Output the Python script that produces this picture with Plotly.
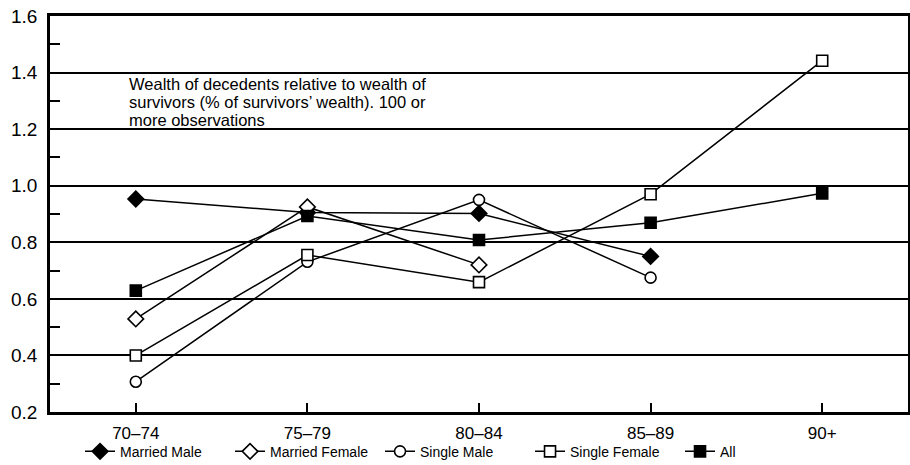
import plotly.graph_objects as go

categories = ["70–74", "75–79", "80–84", "85–89", "90+"]

married_male = [0.953, 0.905, 0.902, 0.750, None]
married_female = [0.529, 0.925, 0.720, None, None]
single_male = [0.307, 0.731, 0.950, 0.675, None]
single_female = [0.400, 0.755, 0.659, 0.970, 1.442]
all_groups = [0.629, 0.893, 0.808, 0.869, 0.973]

series_names = ["Married Male", "Married Female", "Single Male", "Single Female", "All"]

annotation_lines = [
    "Wealth of decedents relative to wealth of",
    "survivors (% of survivors’ wealth). 100 or",
    "more observations",
]

y_ticks = [0.2, 0.4, 0.6, 0.8, 1.0, 1.2, 1.4, 1.6]
y_minor = [0.3, 0.5, 0.7, 0.9, 1.1, 1.3, 1.5]

FONT = "Liberation Sans, Arial, sans-serif"

styles = [
    dict(symbol="diamond", size=12, fill="black"),
    dict(symbol="diamond", size=12, fill="white"),
    dict(symbol="circle", size=11, fill="white"),
    dict(symbol="square", size=11, fill="white"),
    dict(symbol="square", size=11, fill="black"),
]

all_series = [married_male, married_female, single_male, single_female, all_groups]

fig = go.Figure()
for name, vals, st in zip(series_names, all_series, styles):
    xs = [c for c, v in zip(categories, vals) if v is not None]
    ys = [v for v in vals if v is not None]
    fig.add_trace(go.Scatter(
        x=xs, y=ys, name=name, mode="lines+markers",
        line=dict(color="black", width=1.5),
        marker=dict(symbol=st["symbol"], size=st["size"], color=st["fill"],
                    line=dict(color="black", width=1.6)),
    ))

for i, line in enumerate(annotation_lines):
    fig.add_annotation(
        x=0.0897, xref="paper", xanchor="left",
        y=1.6, yref="y", yanchor="top",
        yshift=-57 - 18 * i,
        text=line, showarrow=False,
        font=dict(family=FONT, size=16.5, color="black"),
    )

fig.update_layout(
    width=910, height=465,
    margin=dict(l=50, r=2, t=16, b=53, autoexpand=False),
    paper_bgcolor="white", plot_bgcolor="white",
    font=dict(family=FONT, color="black"),
    showlegend=True,
    legend=dict(
        orientation="h", x=0.035, xanchor="left", y=-0.06, yanchor="top",
        font=dict(family=FONT, size=14, color="black"),
        entrywidth=105, entrywidthmode="pixels",
        itemwidth=30, tracegroupgap=0,
        bgcolor="rgba(0,0,0,0)",
    ),
)

fig.update_xaxes(
    type="category", categoryorder="array", categoryarray=categories,
    range=[-0.5, 4.5], automargin=False,
    showline=True, linecolor="black", linewidth=2.5, mirror=True,
    ticks="inside", ticklen=9, tickwidth=2, tickcolor="black",
    showgrid=False, zeroline=False,
    tickfont=dict(family=FONT, size=17, color="black"),
    ticklabelstandoff=4,
)
fig.update_yaxes(
    range=[0.2, 1.6], tickvals=y_ticks, ticktext=[f"{v:.1f}" for v in y_ticks],
    automargin=False,
    showline=True, linecolor="black", linewidth=2.5, mirror=True,
    ticks="", showgrid=True, gridcolor="black", gridwidth=1.5, zeroline=False,
    tickfont=dict(family=FONT, size=19, color="black"),
    ticklabelstandoff=6,
    minor=dict(tickvals=y_minor, ticks="inside", ticklen=10,
               tickwidth=2, tickcolor="black", showgrid=False),
)

fig.write_html(
    "out.html",
    config={"displayModeBar": False},
    post_script="document.body.style.margin='0';document.body.style.padding='0';",
)
